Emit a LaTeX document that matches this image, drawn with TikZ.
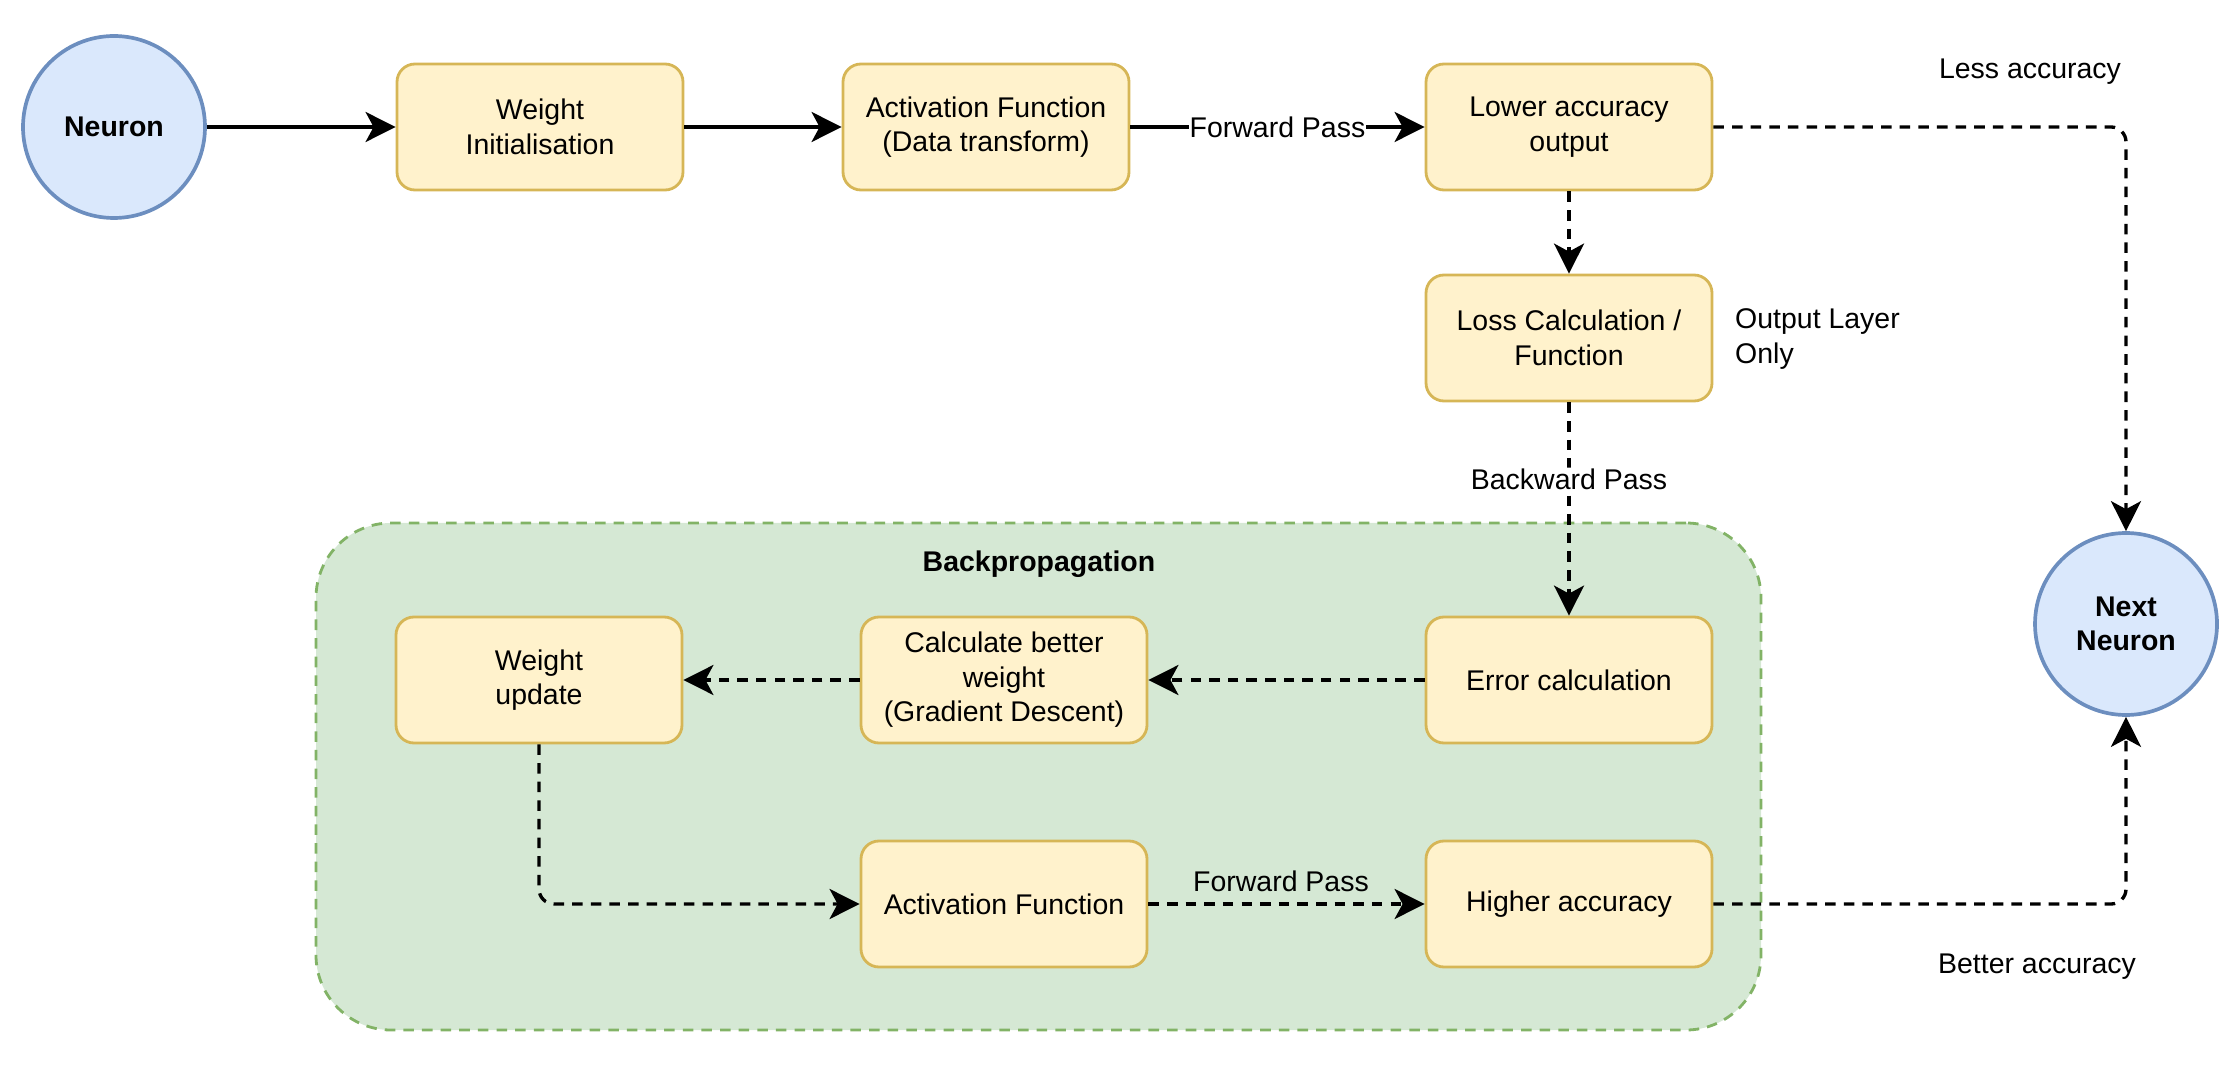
\documentclass[tikz,border=0pt]{standalone}
\usepackage{fontspec}
\setmainfont{Liberation Sans}
\usepackage{xcolor}
\usetikzlibrary{arrows.meta}
\definecolor{boxFill}{HTML}{FFF2CC}
\definecolor{boxLine}{HTML}{D6B656}
\definecolor{cellFill}{HTML}{DAE8FC}
\definecolor{cellLine}{HTML}{6C8EBF}
\definecolor{groupFill}{HTML}{D5E8D4}
\definecolor{groupLine}{HTML}{82B366}
\tikzset{
  flowFont/.style={font=\fontsize{8.1}{9.8}\selectfont},
  flowBox/.style={flowFont, draw=boxLine, fill=boxFill, line width=0.8pt,
    rounded corners=0.18cm, minimum width=2.86cm, minimum height=1.26cm,
    align=center, inner sep=1pt},
  neuronCircle/.style={font=\fontsize{8.1}{9.8}\selectfont\bfseries,
    circle, draw=cellLine, fill=cellFill, line width=1.05pt,
    minimum size=1.82cm, align=center, inner sep=0pt},
  groupBox/.style={draw=groupLine, fill=groupFill, line width=0.8pt,
    dash pattern=on 3pt off 2.3pt, rounded corners=0.75cm,
    minimum width=14.45cm, minimum height=5.07cm},
  flowArrow/.style={line width=0.95pt, -{Stealth[length=0.3cm, width=0.3cm, inset=0.08cm]}},
  dashArrow/.style={flowArrow, dash pattern=on 3pt off 2.3pt, rounded corners=0.15cm},
  flowText/.style={flowFont, inner sep=1pt},
  flowTag/.style={flowFont, fill=white, inner sep=0.3pt}
}
\begin{document}
\begin{tikzpicture}[x=1cm, y=-1cm]
  \useasboundingbox (0,0) rectangle (22.4,10.8);

  \node[groupBox] (backprop) at (10.385,7.765) {};
  \node[flowText, font=\fontsize{8.1}{9.8}\selectfont\bfseries] (backpropTitle) at (10.39,5.64) {Backpropagation};

  \node[neuronCircle] (neuron) at (1.14,1.27) {Neuron};
  \node[flowBox] (weightInit) at (5.40,1.27) {Weight\\Initialisation};
  \node[flowBox] (actTop) at (9.86,1.27) {Activation Function\\(Data transform)};
  \node[flowBox] (lowerAcc) at (15.69,1.27) {Lower accuracy\\output};
  \node[flowBox] (lossCalc) at (15.69,3.38) {Loss Calculation /\\Function};
  \node[flowBox] (errorCalc) at (15.69,6.80) {Error calculation};
  \node[flowBox] (betterWeight) at (10.04,6.80) {Calculate better\\weight\\(Gradient Descent)};
  \node[flowBox] (weightUpd) at (5.39,6.80) {Weight\\update};
  \node[flowBox] (actBottom) at (10.04,9.04) {Activation Function};
  \node[flowBox] (higherAcc) at (15.69,9.04) {Higher accuracy};
  \node[neuronCircle] (nextNeuron) at (21.26,6.24) {Next\\Neuron};

  \node[flowText, align=left, anchor=west] (outputOnly) at (17.31,3.39) {Output Layer\\Only};
  \node[flowText] (lessAcc) at (20.30,0.72) {Less accuracy};
  \node[flowText] (betterAcc) at (20.37,9.67) {Better accuracy};

  \draw[flowArrow] (neuron) -- (weightInit);
  \draw[flowArrow] (weightInit) -- (actTop);
  \draw[flowArrow] (actTop) -- node[flowTag] {Forward Pass} (lowerAcc);
  \draw[dashArrow] (lowerAcc) -- (lossCalc);
  \draw[dashArrow] (lowerAcc.east) -| (nextNeuron.north);
  \draw[dashArrow] (lossCalc) -- node[flowTag, pos=0.36] {Backward Pass} (errorCalc);
  \draw[dashArrow] (errorCalc) -- (betterWeight);
  \draw[dashArrow] (betterWeight) -- (weightUpd);
  \draw[dashArrow] (weightUpd.south) |- (actBottom.west);
  \draw[dashArrow] (actBottom) -- node[flowText, above=2pt, pos=0.48] {Forward Pass} (higherAcc);
  \draw[dashArrow] (higherAcc.east) -| (nextNeuron.south);
\end{tikzpicture}
\end{document}
